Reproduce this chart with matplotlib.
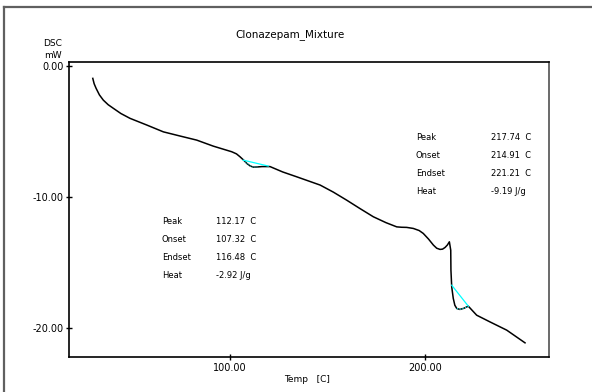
import matplotlib
matplotlib.use("Agg")
import matplotlib.pyplot as plt
from matplotlib.lines import Line2D

# DSC trace
temp = [29.6, 30.3, 31.3, 33.0, 35.0, 37.5, 40.2, 44.0, 48.7, 57.3, 65.8, 74.4, 82.9,
        91.4, 100.9, 103.3, 105.1, 107.0, 108.6, 110.3, 111.9, 114.0, 116.4, 120.5,
        127.0, 134.2, 146.2, 153.0, 159.8, 166.5, 173.5, 180.0, 185.5, 188.0, 190.6,
        194.0, 197.0, 199.1, 201.8, 204.3, 206.0, 207.7, 209.0, 210.3, 211.5, 212.5,
        213.2, 213.3, 213.7, 214.5, 215.3, 216.3, 217.9, 220.0, 222.2, 226.5, 233.3,
        241.9, 251.3]
dsc = [-0.94, -1.35, -1.70, -2.20, -2.60, -2.95, -3.23, -3.62, -3.99, -4.50, -5.02,
       -5.34, -5.65, -6.11, -6.54, -6.70, -6.92, -7.18, -7.43, -7.62, -7.71, -7.70,
       -7.67, -7.67, -8.08, -8.45, -9.08, -9.62, -10.23, -10.86, -11.50, -11.95, -12.27,
       -12.30, -12.31, -12.39, -12.55, -12.77, -13.20, -13.66, -13.90, -13.99, -13.97,
       -13.84, -13.65, -13.41, -14.05, -15.57, -16.85, -17.73, -18.25, -18.50, -18.57,
       -18.48, -18.32, -19.01, -19.52, -20.15, -21.12]

# baselines of the two peaks
base1_t = [106.8, 119.6]
base1_v = [-7.18, -7.63]
base2_t = [213.7, 222.2]
base2_v = [-16.72, -18.32]

peak1_labels = ["Peak", "Onset", "Endset", "Heat"]
peak1_values = ["112.17  C", "107.32  C", "116.48  C", "-2.92 J/g"]
peak2_values = ["217.74  C", "214.91  C", "221.21  C", "-9.19 J/g"]

xticks = [100, 200]
yticks = [0, -10, -20]

fig = plt.figure(figsize=(5.92, 3.92), dpi=100)
W, H = 592, 392

# outer gray frame
fig.add_artist(Line2D([4 / W, 1.0], [1 - 7 / H, 1 - 7 / H], color="#606060", lw=1.6))
fig.add_artist(Line2D([4 / W, 4 / W], [0.0, 1 - 7 / H], color="#606060", lw=1.6))

ax = fig.add_axes([69 / W, 1 - 357 / H, 480 / W, 295 / H])
ax.plot(temp, dsc, color="black", lw=1.1)
ax.plot(base1_t, base1_v, color="cyan", lw=0.9)
ax.plot(base2_t, base2_v, color="cyan", lw=0.9)
ax.plot(temp[17:22], dsc[17:22], color="cyan", lw=0.6, ls=":")
ax.plot(temp[51:55], dsc[51:55], color="cyan", lw=0.8, ls=":")

ax.set_xlim(17.4, 263.6)
ax.set_ylim(-22.2, 0.31)
ax.set_xticks(xticks)
ax.set_xticklabels(["%.2f" % t for t in xticks])
ax.set_yticks(yticks)
ax.set_yticklabels(["%.2f" % t for t in yticks])
ax.tick_params(direction="inout", length=4, width=1, labelsize=7, pad=2)
for s in ax.spines.values():
    s.set_linewidth(1.2)
ax.spines["right"].set_color("#505050")

fig.text(290 / W, 1 - 35 / H, "Clonazepam_Mixture", ha="center", va="center", fontsize=7.5)
fig.text(53 / W, 1 - 44 / H, "DSC", ha="center", va="center", fontsize=6.5)
fig.text(53 / W, 1 - 56 / H, "mW", ha="center", va="center", fontsize=6.5)
fig.text(307 / W, 1 - 379 / H, "Temp   [C]", ha="center", va="center", fontsize=6.5)

for i, (lab, v1, v2) in enumerate(zip(peak1_labels, peak1_values, peak2_values)):
    fig.text(162 / W, 1 - (222 + 18 * i) / H, lab, va="center", fontsize=6)
    fig.text(216 / W, 1 - (222 + 18 * i) / H, v1, va="center", fontsize=6)
    fig.text(416 / W, 1 - (137 + 18 * i) / H, lab, va="center", fontsize=6)
    fig.text(491 / W, 1 - (137 + 18 * i) / H, v2, va="center", fontsize=6)

fig.savefig("out.png", dpi=100)
